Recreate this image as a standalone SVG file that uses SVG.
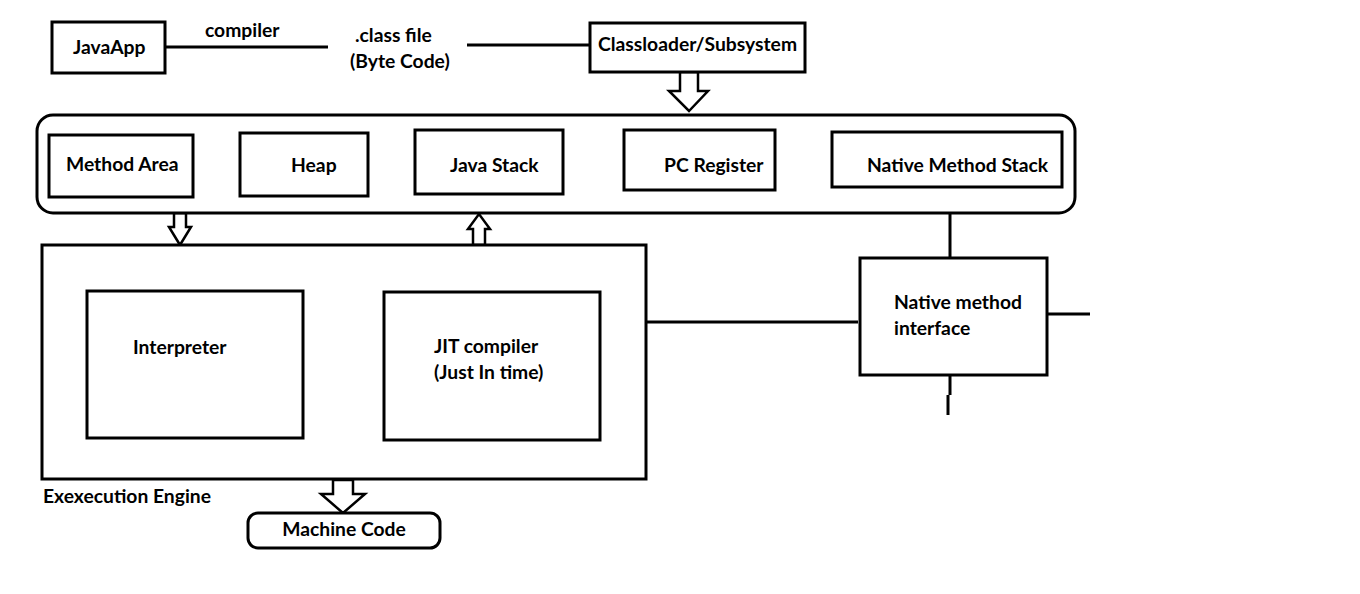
<svg xmlns="http://www.w3.org/2000/svg" width="1360" height="594" viewBox="0 0 1360 594">
<style>
.b{fill:#fff;stroke:#000;stroke-width:3}
.l{fill:none;stroke:#000;stroke-width:3}
.a{fill:#fff;stroke:#000;stroke-width:2.5;stroke-linejoin:miter}
text{font-family:Lato,"Open Sans","Liberation Sans",sans-serif;font-weight:bold;font-size:19.3px;fill:#000}
</style>
<rect width="1360" height="594" fill="#fff"/>
<g id="connectors">
<line class="l" x1="165" y1="47" x2="328" y2="47"/>
<line class="l" x1="467" y1="45" x2="590" y2="45"/>
<line class="l" x1="646" y1="322" x2="858" y2="322"/>
<line class="l" x1="950" y1="213" x2="950" y2="258"/>
<line class="l" x1="1047" y1="314" x2="1090" y2="314"/>
<line class="l" x1="950" y1="375" x2="950" y2="395"/>
<line class="l" x1="948" y1="395" x2="948" y2="415"/>
<polygon class="a" points="680,72 698,72 698,91 708,91 689,111 669,91 680,91"/>
<polygon class="a" points="174,213 186,213 186,227 191,227 180,245 169,227 174,227"/>
<polygon class="a" points="473,245 485,245 485,229 490,229 479,214 468,229 473,229"/>
<polygon class="a" points="333,480 353,480 353,494 365,494 343,513 321,494 333,494"/>
</g>
<g id="javaapp"><rect class="b" x="52" y="22" width="113" height="51"/><text x="73" y="54">JavaApp</text></g>
<g id="compiler-label"><text x="205" y="37">compiler</text></g>
<g id="classfile"><text x="355" y="42">.class file</text><text x="350" y="68">(Byte Code)</text></g>
<g id="classloader"><rect class="b" x="590" y="23" width="215" height="49"/><text x="598" y="51">Classloader/Subsystem</text></g>
<g id="runtime-area"><rect class="b" x="37" y="115" width="1038" height="98" rx="16"/></g>
<g id="method-area"><rect class="b" x="49" y="135" width="144" height="62"/><text x="66" y="171">Method Area</text></g>
<g id="heap"><rect class="b" x="240" y="133" width="128" height="63"/><text x="291" y="172">Heap</text></g>
<g id="java-stack"><rect class="b" x="415" y="130" width="148" height="64"/><text x="450" y="172">Java Stack</text></g>
<g id="pc-register"><rect class="b" x="624" y="130" width="151" height="60"/><text x="664" y="172">PC Register</text></g>
<g id="native-method-stack"><rect class="b" x="832" y="132" width="230" height="55"/><text x="867" y="172">Native Method Stack</text></g>
<g id="execution-engine"><rect class="b" x="42" y="245" width="604" height="234"/><text x="43" y="503">Exexecution Engine</text></g>
<g id="interpreter"><rect class="b" x="87" y="291" width="216" height="147"/><text x="133" y="354">Interpreter</text></g>
<g id="jit"><rect class="b" x="384" y="292" width="216" height="148"/><text x="434" y="353">JIT compiler</text><text x="434" y="379">(Just In time)</text></g>
<g id="native-interface"><rect class="b" x="860" y="258" width="187" height="117"/><text x="894" y="309">Native method</text><text x="894" y="335">interface</text></g>
<g id="machine-code"><rect class="b" x="248" y="513" width="192" height="35" rx="10"/><text x="344" y="536" text-anchor="middle">Machine Code</text></g>
</svg>
